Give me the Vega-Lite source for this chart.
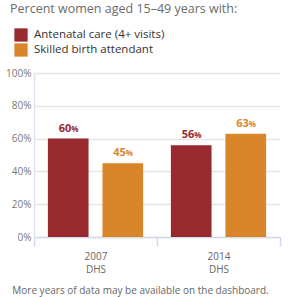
{
  "$schema": "https://vega.github.io/schema/vega-lite/v6.json",
  "width": 246,
  "height": 164,
  "autosize": "none",
  "padding": {"left": 34, "top": 73, "right": 8, "bottom": 60},
  "title": {
    "text": "Percent women aged 15–49 years with:",
    "anchor": "start",
    "frame": "group",
    "font": "Open Sans",
    "fontSize": 12.5,
    "fontWeight": "normal",
    "color": "#6b6b6b",
    "dx": -24,
    "dy": -9,
    "offset": 4
  },
  "data": {
    "values": [
      {"survey": "2007|DHS", "series": "Antenatal care (4+ visits)", "value": 60},
      {"survey": "2007|DHS", "series": "Skilled birth attendant", "value": 45},
      {"survey": "2014|DHS", "series": "Antenatal care (4+ visits)", "value": 56},
      {"survey": "2014|DHS", "series": "Skilled birth attendant", "value": 63}
    ]
  },
  "encoding": {
    "x": {
      "field": "survey",
      "type": "nominal",
      "scale": {"paddingInner": 0, "paddingOuter": 0},
      "axis": {
        "labelExpr": "split(datum.label, '|')",
        "labelAngle": 0,
        "labelFontSize": 10,
        "labelColor": "#666666",
        "labelLineHeight": 13,
        "labelPadding": 5,
        "tickBand": "extent",
        "tickSize": 9,
        "tickWidth": 1.5,
        "tickColor": "#d3d9ea",
        "domainColor": "#d3d9ea",
        "domainWidth": 1.5,
        "grid": false,
        "title": "More years of data may be available on the dashboard.",
        "titleFontSize": 10,
        "titleFontWeight": "normal",
        "titleColor": "#666666",
        "titlePadding": 11,
        "titleX": 106
      }
    },
    "xOffset": {
      "field": "series",
      "type": "nominal",
      "sort": ["Antenatal care (4+ visits)", "Skilled birth attendant"],
      "scale": {"paddingInner": 0.2545, "paddingOuter": 0.2545}
    },
    "y": {
      "field": "value",
      "type": "quantitative",
      "scale": {"domain": [0, 100]},
      "axis": {
        "values": [0, 20, 40, 60, 80, 100],
        "labelExpr": "datum.value + '%'",
        "ticks": false,
        "domainColor": "#dde2ef",
        "domainWidth": 1.5,
        "grid": true,
        "gridColor": "#e6e6e6",
        "gridWidth": 1.5,
        "labelColor": "#777777",
        "labelFontSize": 10,
        "labelPadding": 3,
        "title": null
      }
    },
    "color": {
      "field": "series",
      "type": "nominal",
      "scale": {
        "domain": ["Antenatal care (4+ visits)", "Skilled birth attendant"],
        "range": ["#97292f", "#d9862b"]
      },
      "legend": null
    }
  },
  "layer": [
    {
      "mark": {"type": "bar"},
      "encoding": {
        "color": {
          "field": "series",
          "type": "nominal",
          "scale": {
            "domain": ["Antenatal care (4+ visits)", "Skilled birth attendant"],
            "range": ["#97292f", "#d9862b"]
          },
          "legend": {
            "orient": "none",
            "legendX": -20,
            "legendY": -45,
            "title": null,
            "symbolType": "square",
            "symbolSize": 176,
            "symbolStrokeWidth": 0,
            "symbolOpacity": 1,
            "labelFont": "Open Sans",
            "labelFontSize": 11.5,
            "labelColor": "#333333",
            "labelOffset": 6,
            "rowPadding": 1
          }
        }
      }
    },
    {
      "mark": {"type": "text", "align": "right", "baseline": "alphabetic", "dx": 3, "dy": -7, "fontWeight": "bold", "fontSize": 11},
      "encoding": {"text": {"field": "value", "type": "quantitative"}}
    },
    {
      "mark": {"type": "text", "align": "left", "baseline": "alphabetic", "dx": 3, "dy": -7, "fontWeight": "bold", "fontSize": 8},
      "encoding": {"text": {"value": "%"}}
    }
  ],
  "config": {
    "view": {"stroke": null},
    "font": "Open Sans"
  }
}
